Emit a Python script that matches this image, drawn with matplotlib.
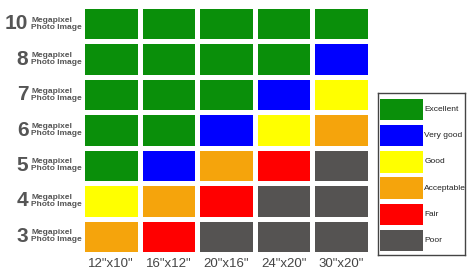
import numpy as np
import matplotlib
matplotlib.use('Agg')
import matplotlib.pyplot as plt
from matplotlib.colors import ListedColormap

# ratings: 5=Excellent 4=Very good 3=Good 2=Acceptable 1=Fair 0=Poor
megapixels = ['10', '8', '7', '6', '5', '4', '3']
print_sizes = ['12"x10"', '16"x12"', '20"x16"', '24"x20"', '30"x20"']
quality = [
    [5, 5, 5, 5, 5],
    [5, 5, 5, 5, 4],
    [5, 5, 5, 4, 3],
    [5, 5, 4, 3, 2],
    [5, 4, 2, 1, 0],
    [3, 2, 1, 0, 0],
    [2, 1, 0, 0, 0],
]
legend_labels = ['Excellent', 'Very good', 'Good', 'Acceptable', 'Fair', 'Poor']
legend_colors = ['#0a8f0a', '#0000ff', '#ffff00', '#f5a40c', '#ff0000', '#555352']

plt.rcParams['font.family'] = ['Liberation Sans Narrow', 'Liberation Sans', 'DejaVu Sans']

W, H = 474, 277
fig = plt.figure(figsize=(W/100, H/100), dpi=100)

def box(x0, y0, x1, y1):
    return [x0/W, 1 - y1/H, (x1-x0)/W, (y1-y0)/H]

cmap = ListedColormap(legend_colors[::-1])
ax = fig.add_axes(box(82, 6, 370, 254))
data = np.array(quality)[::-1]
ax.pcolormesh(data, cmap=cmap, vmin=-0.5, vmax=5.5, edgecolors='white', linewidth=2.2)
ax.set_xlim(0, len(print_sizes))
ax.set_ylim(0, len(megapixels))
for s in ax.spines.values():
    s.set_visible(False)
ax.set_xticks(np.arange(len(print_sizes)) + 0.5)
ax.set_xticklabels(print_sizes, fontsize=9.5, color='#444444')
ax.tick_params(length=0, pad=3)
ax.set_yticks([])

for i, mp in enumerate(megapixels):
    y = len(megapixels) - i - 0.5
    ax.text(-0.93, y, mp, ha='right', va='center', clip_on=False,
            fontsize=15, fontweight='bold', color='#555555')
    ax.text(-0.88, y, 'Megapixel\nPhoto Image', ha='left', va='center', clip_on=False,
            fontsize=6, fontweight='bold', color='#555555', linespacing=1.0)

# legend
lax = fig.add_axes(box(378, 93, 465, 255))
lax.barh(np.arange(len(legend_labels)), [1]*len(legend_labels), height=0.82,
         color=legend_colors, left=0)
for i, lab in enumerate(legend_labels):
    lax.text(1.04, i, lab, ha='left', va='center', fontsize=6, color='#222222')
lax.set_xlim(-0.05, 2.0)
lax.set_ylim(len(legend_labels) - 0.45, -0.62)
lax.set_xticks([])
lax.set_yticks([])
for s in lax.spines.values():
    s.set_color('#444444')
    s.set_linewidth(1.0)

fig.savefig('out.png', dpi=100)
